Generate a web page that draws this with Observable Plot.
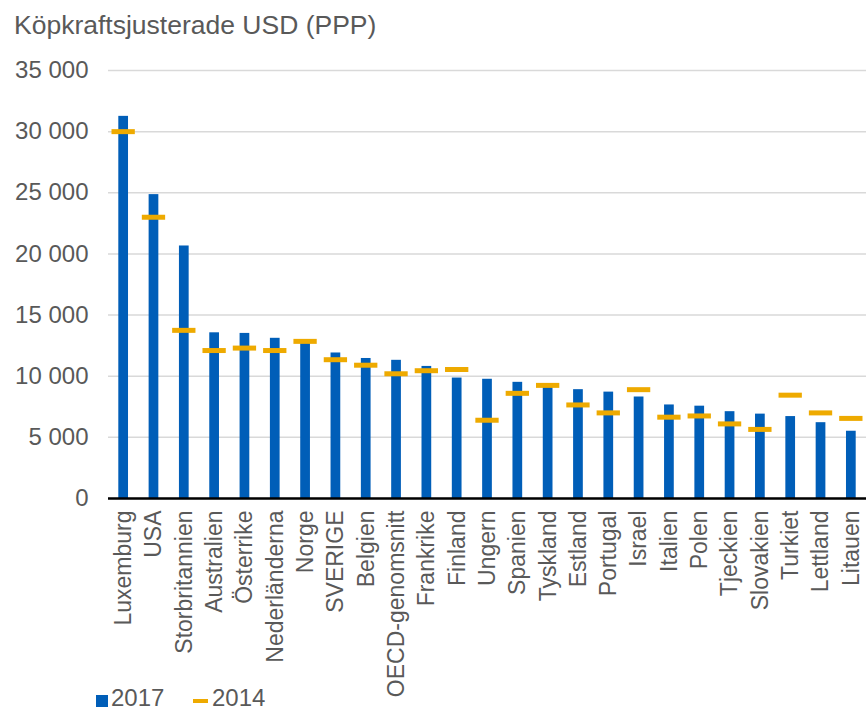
<!DOCTYPE html>
<html>
<head>
<meta charset="utf-8">
<script src="https://cdn.jsdelivr.net/npm/d3@7"></script>
<script src="https://cdn.jsdelivr.net/npm/@observablehq/plot@0.6"></script>
<style>
  body { margin: 0; background: white; }
  #wrap { position: relative; width: 866px; height: 711px; font-family: "Liberation Sans", Arial, sans-serif; color: #595959; }
  #title { position: absolute; left: 14px; top: 12px; font-size: 26.5px; line-height: 1; white-space: nowrap; }
  #legend { position: absolute; left: 0; top: 0; width: 866px; height: 711px; pointer-events: none; }
  .lg-text { position: absolute; font-size: 24px; line-height: 20px; top: 688px; }
  svg { display: block; }
</style>
</head>
<body>
<div id="wrap">
  <div id="chart"></div>
  <div id="title">Köpkraftsjusterade USD (PPP)</div>
  <div id="legend">
    <div style="position:absolute;left:96px;top:695px;width:12px;height:12px;background:#005EB8"></div>
    <div class="lg-text" style="left:111px">2017</div>
    <div style="position:absolute;left:193px;top:699px;width:15px;height:4px;background:#EEAA00"></div>
    <div class="lg-text" style="left:212px">2014</div>
  </div>
</div>
<script>
const countries = ["Luxemburg","USA","Storbritannien","Australien","Österrike","Nederländerna","Norge","SVERIGE","Belgien","OECD-genomsnitt","Frankrike","Finland","Ungern","Spanien","Tyskland","Estland","Portugal","Israel","Italien","Polen","Tjeckien","Slovakien","Turkiet","Lettland","Litauen"];
const values2017 = [31250,24850,20650,13550,13500,13100,12750,11900,11450,11300,10800,9850,9750,9500,9150,8900,8700,8300,7650,7550,7100,6900,6700,6200,5500];
const values2014 = [30000,23000,13750,12100,12300,12100,12850,11350,10900,10200,10450,10550,6400,8600,9250,7650,7000,8900,6650,6750,6100,5650,8450,7000,6550];
const yTicks = [0,5000,10000,15000,20000,25000,30000,35000];

const data = countries.map((c, i) => ({country: c, v2017: values2017[i], v2014: values2014[i]}));
const fmt = d => d3.format(",")(d).replace(/,/g, " ");

const chart = Plot.plot({
  width: 866,
  height: 711,
  marginTop: 70,
  marginBottom: 213,
  marginLeft: 108,
  marginRight: 0,
  style: {fontFamily: "'Liberation Sans', Arial, sans-serif", color: "#595959", background: "white", fontSize: "24px"},
  x: {domain: countries, padding: 0, round: false, label: null},
  y: {domain: [0, 35000], label: null},
  marks: [
    Plot.gridY(yTicks, {stroke: "#d9d9d9", strokeOpacity: 1, strokeWidth: 1.5}),
    Plot.axisY(yTicks, {tickSize: 0, tickPadding: 20, tickFormat: fmt, fontSize: 24, fill: "#595959", label: null}),
    Plot.barY(data, {x: "country", y: "v2017", fill: "#005EB8", insetLeft: 10.3, insetRight: 10.3}),
    Plot.ruleY([0], {stroke: "black", strokeWidth: 2.5}),
    Plot.tickY(data, {x: "country", y: "v2014", stroke: "#EEAA00", strokeWidth: 5, insetLeft: 3.5, insetRight: 3.5}),
    Plot.axisX({tickSize: 0, tickPadding: 12, tickRotate: -90, fontSize: 23, fill: "#595959", label: null})
  ]
});
document.getElementById("chart").appendChild(chart);
</script>
</body>
</html>
